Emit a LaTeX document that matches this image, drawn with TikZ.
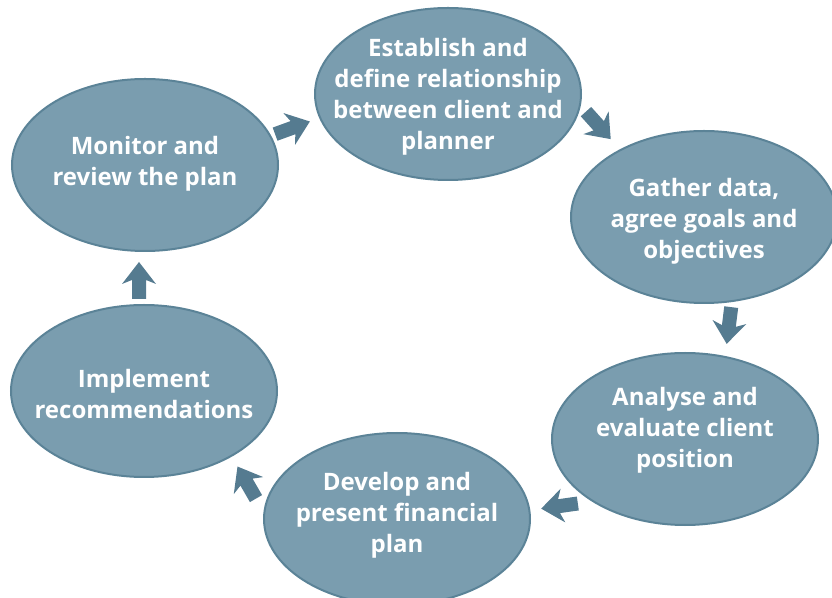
\documentclass[tikz,border=0pt]{standalone}
\usepackage{fontspec}
\setmainfont{Open Sans}
\usetikzlibrary{shapes.geometric}
\definecolor{ellfill}{HTML}{7A9DAF}
\definecolor{elldraw}{HTML}{5B8397}
\definecolor{arrc}{HTML}{557B90}
\tikzset{
  stage/.style={ellipse, draw=elldraw, line width=2pt, fill=ellfill, inner sep=0pt,
    minimum width=266pt, minimum height=172pt},
  stagetext/.style={text=white, align=center, inner sep=0pt,
    font=\fontsize{24}{31}\selectfont\bfseries},
  blockarrow/.pic={\fill[arrc] (-18,-7) -- (1,-7) -- (-3,-17) -- (19,0) -- (-3,17) -- (1,7) -- (-18,7) -- cycle;}
}
\begin{document}
\begin{tikzpicture}[x=1pt,y=1pt]
\useasboundingbox (0,0) rectangle (832,597);
% ellipses (y = 597 - image y)
\node[stage] (est) at (448,503) {};
\node[stage] (gat) at (704,380) {};
\node[stage] (ana) at (685,158) {};
\node[stage] (dev) at (397,78) {};
\node[stage] (imp) at (144,206) {};
\node[stage] (mon) at (145,432) {};
% texts
\node[stagetext] (estt) at (448,500) {Establish and\\define relationship\\between client and\\planner};
\node[stagetext] (gatt) at (704,376) {Gather data,\\agree goals and\\objectives};
\node[stagetext] (anat) at (685,167) {Analyse and\\evaluate client\\position};
\node[stagetext] (devt) at (397,82) {Develop and\\present financial\\plan};
\node[stagetext] (impt) at (144,203) {Implement\\recommendations};
\node[stagetext] (mont) at (145,433) {Monitor and\\review the plan};
% arrows
\coordinate (a1) at (292,469);
\coordinate (a2) at (598,472);
\coordinate (a3) at (729,272);
\coordinate (a4) at (560,91);
\coordinate (a5) at (247,114);
\coordinate (a6) at (139,316);
\pic[rotate=20] at (a1) {blockarrow};
\pic[rotate=-48] at (a2) {blockarrow};
\pic[rotate=-97] at (a3) {blockarrow};
\pic[rotate=188] at (a4) {blockarrow};
\pic[rotate=120] at (a5) {blockarrow};
\pic[rotate=90] at (a6) {blockarrow};
\end{tikzpicture}
\end{document}
